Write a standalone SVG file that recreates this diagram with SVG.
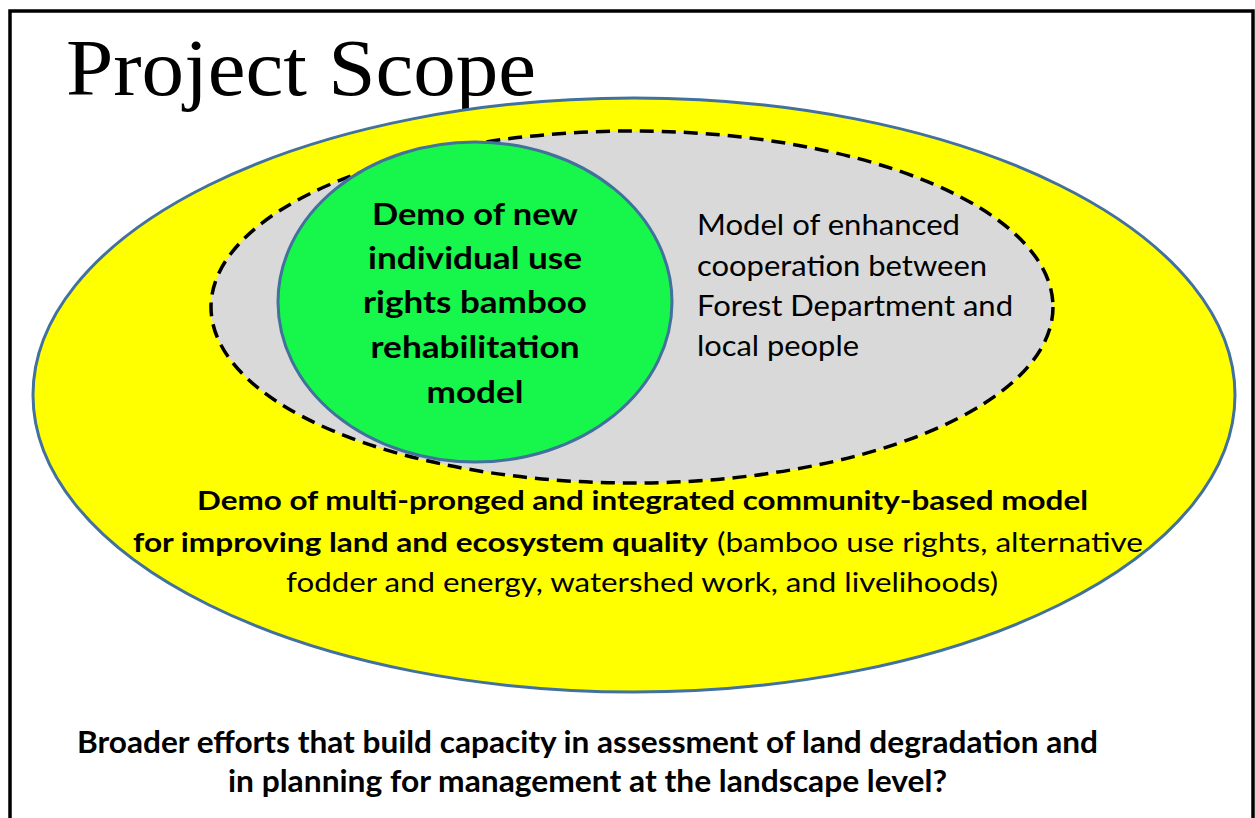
<svg xmlns="http://www.w3.org/2000/svg" width="1255" height="818" viewBox="0 0 1255 818">
<style>
.sans{font-family:Lato,"Open Sans","Liberation Sans",sans-serif;fill:#000}
.b{font-weight:bold}
.title{font-family:"Liberation Serif","DejaVu Serif",serif;font-size:80px;fill:#000}
</style>
<rect width="1255" height="818" fill="#fff"/>
<rect x="10" y="11" width="1243" height="830" fill="none" stroke="#000" stroke-width="3.5"/>
<text class="title" x="66" y="95" textLength="470" lengthAdjust="spacingAndGlyphs">Project Scope</text>
<g id="outer">
<ellipse cx="634" cy="395" rx="601" ry="297" fill="#ffff00" stroke="#41719c" stroke-width="3"/>
</g>
<g id="middle">
<ellipse cx="632" cy="307" rx="421" ry="176" fill="#d9d9d9" stroke="#000" stroke-width="3.5" stroke-dasharray="14 8"/>
<text class="sans" font-size="28"><tspan x="697" y="235" textLength="263" lengthAdjust="spacingAndGlyphs">Model of enhanced</tspan><tspan x="697" y="276" textLength="290" lengthAdjust="spacingAndGlyphs">cooperation between</tspan><tspan x="697" y="316" textLength="316" lengthAdjust="spacingAndGlyphs">Forest Department and</tspan><tspan x="697" y="356" textLength="162" lengthAdjust="spacingAndGlyphs">local people</tspan></text>
</g>
<g id="inner">
<ellipse cx="475" cy="302" rx="197" ry="160" fill="#17f64b" stroke="#41719c" stroke-width="3"/>
<text class="sans b" font-size="31" text-anchor="middle"><tspan x="475" y="225" textLength="206" lengthAdjust="spacingAndGlyphs">Demo of new</tspan><tspan x="475" y="269" textLength="214" lengthAdjust="spacingAndGlyphs">individual use</tspan><tspan x="475" y="313" textLength="224" lengthAdjust="spacingAndGlyphs">rights bamboo</tspan><tspan x="475" y="358" textLength="209" lengthAdjust="spacingAndGlyphs">rehabilitation</tspan><tspan x="475" y="403" textLength="97" lengthAdjust="spacingAndGlyphs">model</tspan></text>
</g>
<g id="outer-label">
<text class="sans b" font-size="27" x="197" y="510" textLength="891" lengthAdjust="spacingAndGlyphs">Demo of multi-pronged and integrated community-based model</text>
<text class="sans b" font-size="27" x="133" y="552" textLength="575" lengthAdjust="spacingAndGlyphs">for improving land and ecosystem quality</text>
<text class="sans" font-size="27" x="717" y="552" textLength="426" lengthAdjust="spacingAndGlyphs">(bamboo use rights, alternative</text>
<text class="sans" font-size="27" x="286" y="592" textLength="712" lengthAdjust="spacingAndGlyphs">fodder and energy, watershed work, and livelihoods)</text>
</g>
<g id="broader">
<text class="sans b" font-size="30" x="77" y="753" textLength="1021" lengthAdjust="spacingAndGlyphs">Broader efforts that build capacity in assessment of land degradation and</text>
<text class="sans b" font-size="30" x="228" y="792" textLength="719" lengthAdjust="spacingAndGlyphs">in planning for management at the landscape level?</text>
</g>
<g id="connectors"></g>
</svg>
